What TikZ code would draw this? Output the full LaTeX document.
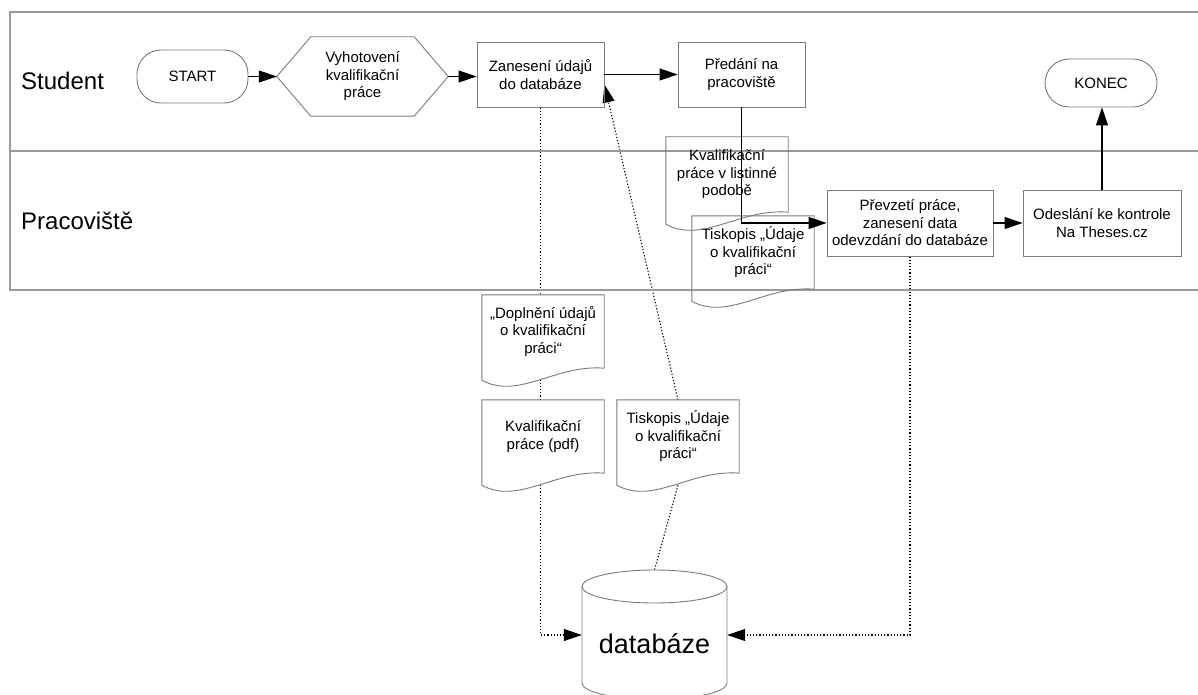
\documentclass[tikz,border=0pt]{standalone}
\usepackage{fontspec}
\setmainfont{Liberation Sans}
\usepackage{tikz}
\usepackage{xcolor}
\usetikzlibrary{arrows.meta,calc}

\definecolor{lanegray}{HTML}{9A9A9A}
\definecolor{boxgray}{HTML}{7A7A7A}

\pgfdeclarelayer{bg}
\pgfdeclarelayer{mid}
\pgfsetlayers{bg,mid,main}

\tikzset{
  boxline/.style={draw=boxgray,line width=0.9pt},
  box/.style={boxline,align=center,font=\fontsize{15}{17.5}\selectfont,inner sep=2pt},
  term/.style={box,rounded corners=24pt},
  plain/.style={align=center,font=\fontsize{15}{17.5}\selectfont,inner sep=0pt},
  doc/.style={plain,minimum width=122,minimum height=73},
  lane/.style={draw=lanegray,line width=1.4pt},
  lanelabel/.style={font=\fontsize{24}{28}\selectfont,inner sep=0pt},
  flow/.style={line width=1.1pt,-{Triangle[length=18pt,width=12pt]}},
  dots/.style={line width=1.1pt,dash pattern=on 1.2pt off 2pt},
  dotflow/.style={dots,-{Triangle[length=18pt,width=12pt]}}
}

\newcommand{\hexoutline}[1]{%
  \draw[boxline] (#1.west) -- ([xshift=34pt]#1.north west) -- ([xshift=-34pt]#1.north east)
    -- (#1.east) -- ([xshift=-34pt]#1.south east) -- ([xshift=34pt]#1.south west) -- cycle;}

\newcommand{\docoutline}[2][]{%
  \draw[boxline,#1] ([yshift=-12pt]#2.south west) -- (#2.north west) -- (#2.north east) -- (#2.south east)
    .. controls ($(#2.south west)!0.6!(#2.south east)+(0,-4)$) and ($(#2.south west)!0.3!(#2.south east)+(0,32)$)
    .. ([yshift=-12pt]#2.south west) -- cycle;}

\begin{document}
\begin{tikzpicture}[x=1pt,y=-1pt]
        \useasboundingbox (0,0) rectangle (1198,695);
        \draw[lane] (1198,12) -- (10,12) -- (10,290) -- (1198,290);
        \draw[lane] (10,151) -- (1198,151);
        \draw (21,81) node[lanelabel,anchor=west](student) {Student};
        \draw (21,221) node[lanelabel,anchor=west](pracoviste) {Pracoviště};

        \draw (192.5,76.5) node[term,minimum width=111,minimum height=53](start) {START};
        \draw (362.5,76.5) node[plain,minimum width=171,minimum height=79](vyhotoveni) {Vyhotovení\\kvalifikační\\práce};
        \hexoutline{vyhotoveni}
        \draw (540.5,74.5) node[box,minimum width=127,minimum height=65](zaneseni) {Zanesení údajů\\do databáze};
        \draw (741.5,74.5) node[box,minimum width=127,minimum height=65](predani) {Předání na\\pracoviště};
        \draw (1101,83) node[term,minimum width=112,minimum height=48](konec) {KONEC};
        \draw (910,223) node[box,minimum width=166,minimum height=66](prevzeti) {Převzetí práce,\\zanesení data\\odevzdání do databáze};
        \draw (1102,223) node[box,minimum width=158,minimum height=66](odeslani) {Odeslání ke kontrole\\Na Theses.cz};

        \draw (727,174.5) node[doc,minimum height=75](listinna) {Kvalifikační\\práce v listinné\\podobě};
        \draw (753,252.5) node[doc](tiskopisA) {Tiskopis „Údaje\\o kvalifikační\\práci“};
        \draw (543,331.5) node[doc](doplneni) {„Doplnění údajů\\o kvalifikační\\práci“};
        \draw (543,436.5) node[doc](pdf) {Kvalifikační\\práce (pdf)};
        \draw (678,436.5) node[doc](tiskopisB) {Tiskopis „Údaje\\o kvalifikační\\práci“};
        \docoutline{listinna}
        \docoutline{tiskopisA}
        \docoutline{tiskopisB}
        \begin{pgfonlayer}{mid}
        \docoutline[fill=white]{doplneni}
        \docoutline[fill=white]{pdf}
        \end{pgfonlayer}

        \draw (654.5,635) node[plain,font=\fontsize{27}{32}\selectfont,text height=36pt,text depth=0pt,minimum width=145,minimum height=97](db) {databáze};
        \coordinate (dbtop) at ([yshift=16.5pt]db.north);
        \draw[boxline] (654.5,586.5) ellipse [x radius=72.5, y radius=16.5];
        \draw[boxline] (582,586.5) -- (582,683) arc[start angle=180, end angle=0, x radius=72.5, y radius=16.5] -- (727,586.5);

        \draw[flow] (start) -- (vyhotoveni);
        \draw[flow] (vyhotoveni.east) -- (zaneseni.west |- vyhotoveni.east);
        \draw[flow] (zaneseni) -- (predani);
        \draw[flow] (predani) |- (prevzeti);
        \draw[flow] (prevzeti) -- (odeslani);
        \draw[flow] (odeslani.north) -- (odeslani.north |- konec.south);

        \begin{pgfonlayer}{bg}
        \draw[dotflow] (zaneseni) |- (db);
        \draw[dotflow] (prevzeti) |- (db);
        \draw[dots] ([yshift=-12pt]tiskopisB.south) -- (dbtop);
        \draw[dotflow] (tiskopisB.north) -- ([yshift=-10pt]zaneseni.east);
        \end{pgfonlayer}
    \end{tikzpicture}
\end{document}
